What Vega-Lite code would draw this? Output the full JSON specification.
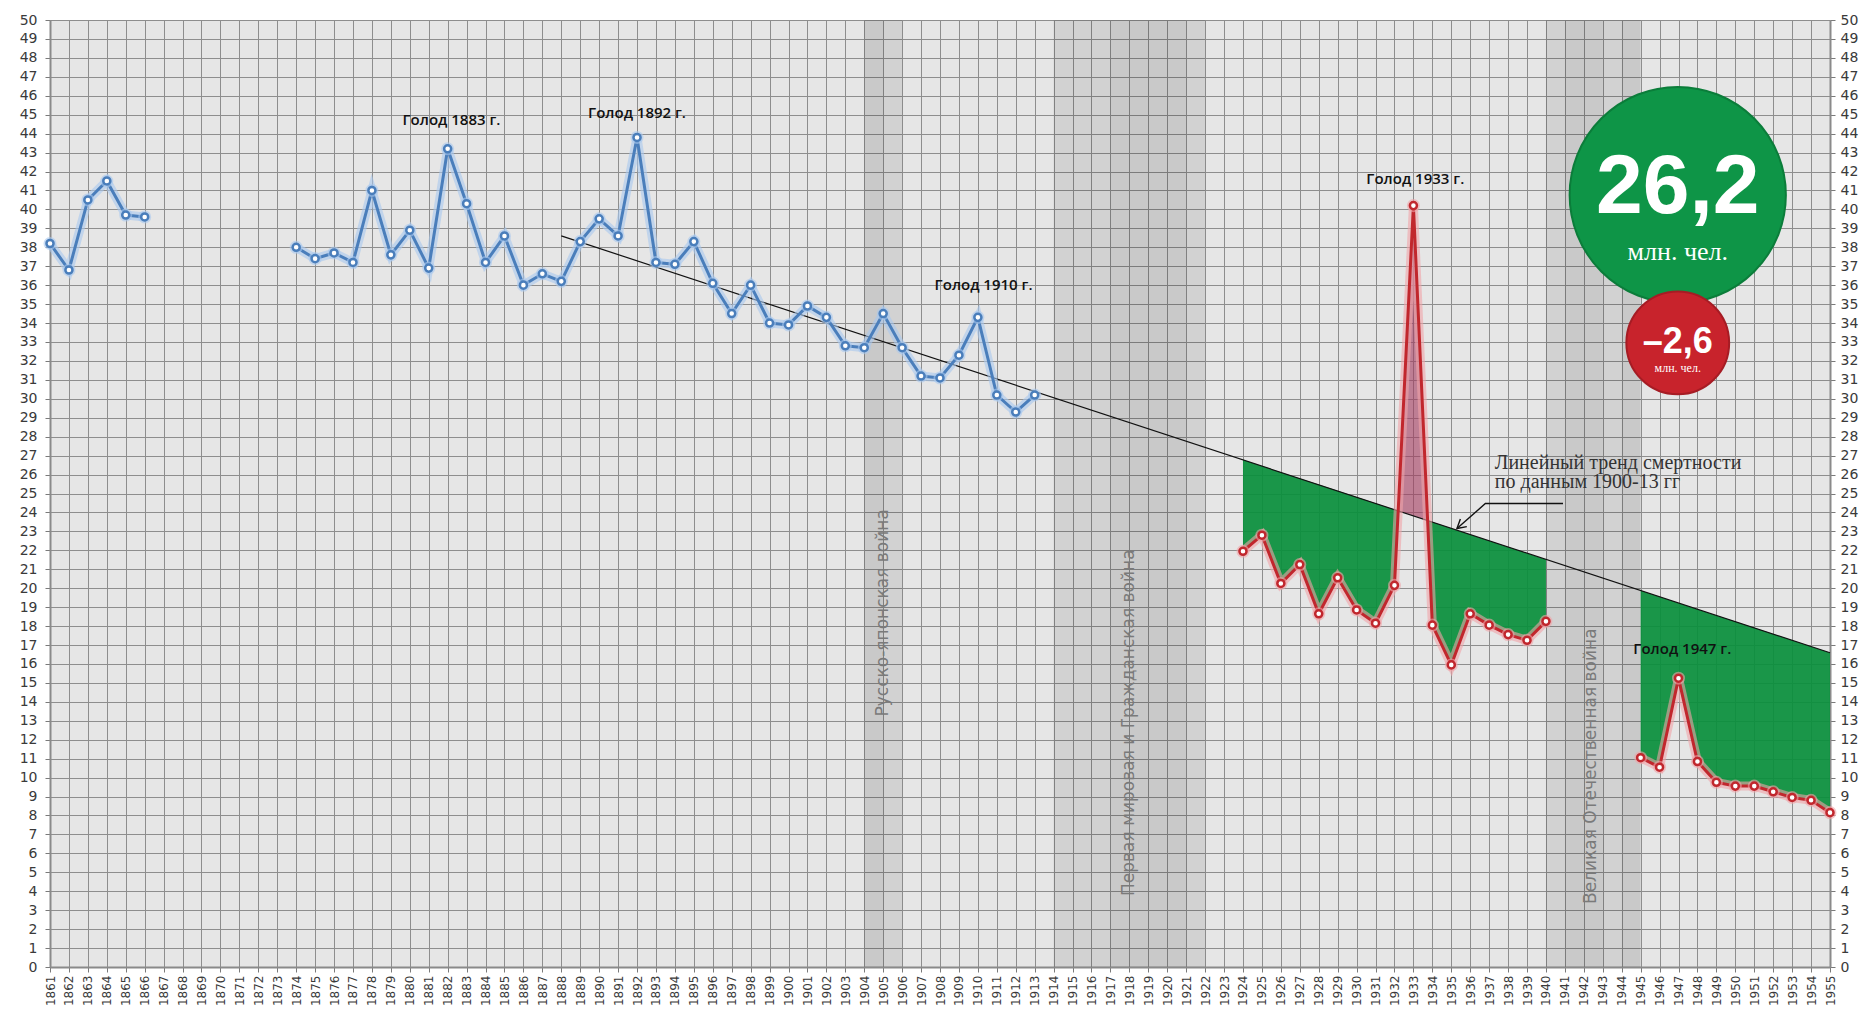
{
  "$schema": "https://vega.github.io/schema/vega-lite/v6.json",
  "width": 1780,
  "height": 947,
  "autosize": {"type": "none"},
  "padding": {"left": 50, "top": 20, "right": 33, "bottom": 43},
  "background": "#ffffff",
  "config": {
    "view": {"fill": "#e6e6e6", "stroke": null},
    "axis": {"labelFont": "DejaVu Sans", "labelColor": "#3a3a3a", "tickColor": "#7a7a7a", "domainColor": "#8a8a8a", "gridColor": "#8e8e8e", "gridOpacity": 1, "gridWidth": 1}
  },
  "datasets": {
    "blue": [
      {"year": 1861, "v": 38.2, "seg": "a"}, {"year": 1862, "v": 36.8, "seg": "a"}, {"year": 1863, "v": 40.5, "seg": "a"},
      {"year": 1864, "v": 41.5, "seg": "a"}, {"year": 1865, "v": 39.7, "seg": "a"}, {"year": 1866, "v": 39.6, "seg": "a"},
      {"year": 1874, "v": 38.0, "seg": "b"}, {"year": 1875, "v": 37.4, "seg": "b"}, {"year": 1876, "v": 37.7, "seg": "b"},
      {"year": 1877, "v": 37.2, "seg": "b"}, {"year": 1878, "v": 41.0, "seg": "b"}, {"year": 1879, "v": 37.6, "seg": "b"},
      {"year": 1880, "v": 38.9, "seg": "b"}, {"year": 1881, "v": 36.9, "seg": "b"}, {"year": 1882, "v": 43.2, "seg": "b"},
      {"year": 1883, "v": 40.3, "seg": "b"}, {"year": 1884, "v": 37.2, "seg": "b"}, {"year": 1885, "v": 38.6, "seg": "b"},
      {"year": 1886, "v": 36.0, "seg": "b"}, {"year": 1887, "v": 36.6, "seg": "b"}, {"year": 1888, "v": 36.2, "seg": "b"},
      {"year": 1889, "v": 38.3, "seg": "b"}, {"year": 1890, "v": 39.5, "seg": "b"}, {"year": 1891, "v": 38.6, "seg": "b"},
      {"year": 1892, "v": 43.8, "seg": "b"}, {"year": 1893, "v": 37.2, "seg": "b"}, {"year": 1894, "v": 37.1, "seg": "b"},
      {"year": 1895, "v": 38.3, "seg": "b"}, {"year": 1896, "v": 36.1, "seg": "b"}, {"year": 1897, "v": 34.5, "seg": "b"},
      {"year": 1898, "v": 36.0, "seg": "b"}, {"year": 1899, "v": 34.0, "seg": "b"}, {"year": 1900, "v": 33.9, "seg": "b"},
      {"year": 1901, "v": 34.9, "seg": "b"}, {"year": 1902, "v": 34.3, "seg": "b"}, {"year": 1903, "v": 32.8, "seg": "b"},
      {"year": 1904, "v": 32.7, "seg": "b"}, {"year": 1905, "v": 34.5, "seg": "b"}, {"year": 1906, "v": 32.7, "seg": "b"},
      {"year": 1907, "v": 31.2, "seg": "b"}, {"year": 1908, "v": 31.1, "seg": "b"}, {"year": 1909, "v": 32.3, "seg": "b"},
      {"year": 1910, "v": 34.3, "seg": "b"}, {"year": 1911, "v": 30.2, "seg": "b"}, {"year": 1912, "v": 29.3, "seg": "b"},
      {"year": 1913, "v": 30.2, "seg": "b"}
    ],
    "red": [
      {"year": 1924, "v": 21.95, "seg": "c"}, {"year": 1925, "v": 22.8, "seg": "c"}, {"year": 1926, "v": 20.25, "seg": "c"},
      {"year": 1927, "v": 21.25, "seg": "c"}, {"year": 1928, "v": 18.65, "seg": "c"}, {"year": 1929, "v": 20.55, "seg": "c"},
      {"year": 1930, "v": 18.85, "seg": "c"}, {"year": 1931, "v": 18.15, "seg": "c"}, {"year": 1932, "v": 20.15, "seg": "c"},
      {"year": 1933, "v": 40.2, "seg": "c"}, {"year": 1934, "v": 18.05, "seg": "c"}, {"year": 1935, "v": 15.95, "seg": "c"},
      {"year": 1936, "v": 18.65, "seg": "c"}, {"year": 1937, "v": 18.05, "seg": "c"}, {"year": 1938, "v": 17.55, "seg": "c"},
      {"year": 1939, "v": 17.25, "seg": "c"}, {"year": 1940, "v": 18.25, "seg": "c"},
      {"year": 1945, "v": 11.05, "seg": "d"}, {"year": 1946, "v": 10.55, "seg": "d"}, {"year": 1947, "v": 15.25, "seg": "d"},
      {"year": 1948, "v": 10.85, "seg": "d"}, {"year": 1949, "v": 9.75, "seg": "d"}, {"year": 1950, "v": 9.55, "seg": "d"},
      {"year": 1951, "v": 9.55, "seg": "d"}, {"year": 1952, "v": 9.25, "seg": "d"}, {"year": 1953, "v": 8.95, "seg": "d"},
      {"year": 1954, "v": 8.8, "seg": "d"}, {"year": 1955, "v": 8.15, "seg": "d"}
    ],
    "green": [
      {"year": 1924, "lo": 21.95, "hi": 26.78, "seg": "c1"}, {"year": 1925, "lo": 22.8, "hi": 26.45, "seg": "c1"},
      {"year": 1926, "lo": 20.25, "hi": 26.12, "seg": "c1"}, {"year": 1927, "lo": 21.25, "hi": 25.79, "seg": "c1"},
      {"year": 1928, "lo": 18.65, "hi": 25.47, "seg": "c1"}, {"year": 1929, "lo": 20.55, "hi": 25.14, "seg": "c1"},
      {"year": 1930, "lo": 18.85, "hi": 24.81, "seg": "c1"}, {"year": 1931, "lo": 18.15, "hi": 24.48, "seg": "c1"},
      {"year": 1932, "lo": 20.15, "hi": 24.15, "seg": "c1"}, {"year": 1932.2, "lo": 24.08, "hi": 24.08, "seg": "c1"},
      {"year": 1933.75, "lo": 23.57, "hi": 23.57, "seg": "c2"}, {"year": 1934, "lo": 18.05, "hi": 23.49, "seg": "c2"},
      {"year": 1935, "lo": 15.95, "hi": 23.16, "seg": "c2"}, {"year": 1936, "lo": 18.65, "hi": 22.83, "seg": "c2"},
      {"year": 1937, "lo": 18.05, "hi": 22.5, "seg": "c2"}, {"year": 1938, "lo": 17.55, "hi": 22.18, "seg": "c2"},
      {"year": 1939, "lo": 17.25, "hi": 21.85, "seg": "c2"}, {"year": 1940, "lo": 18.25, "hi": 21.52, "seg": "c2"},
      {"year": 1945, "lo": 11.05, "hi": 19.88, "seg": "d"}, {"year": 1946, "lo": 10.55, "hi": 19.55, "seg": "d"},
      {"year": 1947, "lo": 15.25, "hi": 19.22, "seg": "d"}, {"year": 1948, "lo": 10.85, "hi": 18.89, "seg": "d"},
      {"year": 1949, "lo": 9.75, "hi": 18.56, "seg": "d"}, {"year": 1950, "lo": 9.55, "hi": 18.24, "seg": "d"},
      {"year": 1951, "lo": 9.55, "hi": 17.91, "seg": "d"}, {"year": 1952, "lo": 9.25, "hi": 17.58, "seg": "d"},
      {"year": 1953, "lo": 8.95, "hi": 17.25, "seg": "d"}, {"year": 1954, "lo": 8.8, "hi": 16.92, "seg": "d"},
      {"year": 1955, "lo": 8.15, "hi": 16.59, "seg": "d"}
    ],
    "spike": [
      {"year": 1932.2, "lo": 24.08, "hi": 24.08}, {"year": 1933, "lo": 40.2, "hi": 23.82}, {"year": 1933.75, "lo": 23.57, "hi": 23.57}
    ],
    "trend": [{"year": 1888, "v": 38.6}, {"year": 1955, "v": 16.59}],
    "bands": [
      {"year": 1904, "year2": 1905, "tone": "a"}, {"year": 1905, "year2": 1906, "tone": "b"},
      {"year": 1914, "year2": 1917, "tone": "b"}, {"year": 1917, "year2": 1921, "tone": "a"}, {"year": 1921, "year2": 1922, "tone": "b"},
      {"year": 1940, "year2": 1941, "tone": "b"}, {"year": 1941, "year2": 1943, "tone": "a"}, {"year": 1943, "year2": 1944, "tone": "b"}, {"year": 1944, "year2": 1945, "tone": "a"}
    ],
    "bandLabels": [
      {"year": 1905, "v": 18.7, "text": "Русско-японская война"},
      {"year": 1918, "v": 12.9, "text": "Первая мировая и Гражданская война"},
      {"year": 1942.4, "v": 10.6, "text": "Великая Отечественная война"}
    ],
    "famine": [
      {"year": 1882.2, "v": 44.7, "text": "Голод 1883 г."},
      {"year": 1892.0, "v": 45.1, "text": "Голод 1892 г."},
      {"year": 1910.3, "v": 36.0, "text": "Голод 1910 г."},
      {"year": 1933.1, "v": 41.6, "text": "Голод 1933 г."},
      {"year": 1947.2, "v": 16.8, "text": "Голод 1947 г."}
    ],
    "note": [
      {"year": 1937.3, "v": 26.6, "text": "Линейный тренд смертности"},
      {"year": 1937.3, "v": 25.6, "text": "по данным 1900-13 гг"}
    ],
    "arrow": [
      {"year": 1940.9, "v": 24.47, "o": 1, "seg": "s"}, {"year": 1936.8, "v": 24.47, "o": 2, "seg": "s"}, {"year": 1935.3, "v": 23.15, "o": 3, "seg": "s"},
      {"year": 1935.82, "v": 23.25, "o": 1, "seg": "h"}, {"year": 1935.3, "v": 23.15, "o": 2, "seg": "h"}, {"year": 1935.48, "v": 23.65, "o": 3, "seg": "h"}
    ]
  },
  "encoding": {
    "x": {
      "field": "year", "type": "quantitative",
      "scale": {"domain": [1861, 1955], "nice": false, "zero": false},
      "axis": {
        "title": null, "grid": true, "labelAngle": 270, "labelFontSize": 12, "labelPadding": 3, "tickSize": 5,
        "domainWidth": 2, "labelOverlap": false, "labelFlush": false, "format": "d",
        "values": [1861,1862,1863,1864,1865,1866,1867,1868,1869,1870,1871,1872,1873,1874,1875,1876,1877,1878,1879,1880,1881,1882,1883,1884,1885,1886,1887,1888,1889,1890,1891,1892,1893,1894,1895,1896,1897,1898,1899,1900,1901,1902,1903,1904,1905,1906,1907,1908,1909,1910,1911,1912,1913,1914,1915,1916,1917,1918,1919,1920,1921,1922,1923,1924,1925,1926,1927,1928,1929,1930,1931,1932,1933,1934,1935,1936,1937,1938,1939,1940,1941,1942,1943,1944,1945,1946,1947,1948,1949,1950,1951,1952,1953,1954,1955]
      }
    }
  },
  "resolve": {"axis": {"y": "independent"}},
  "layer": [
    {
      "data": {"name": "bands"},
      "mark": {"type": "rect"},
      "encoding": {
        "x2": {"field": "year2"},
        "y": {"datum": 0, "type": "quantitative", "scale": {"domain": [0, 50], "nice": false}, "axis": null},
        "y2": {"datum": 50},
        "color": {"field": "tone", "type": "nominal", "scale": {"domain": ["a", "b"], "range": ["rgba(0,0,0,0.125)", "rgba(0,0,0,0.085)"]}, "legend": null}
      }
    },
    {
      "data": {"name": "bandLabels"},
      "mark": {"type": "text", "angle": 270, "font": "DejaVu Sans", "fontSize": 17, "color": "#7a7a7a", "align": "center", "baseline": "middle"},
      "encoding": {
        "y": {"field": "v", "type": "quantitative", "scale": {"domain": [0, 50], "nice": false}, "axis": null},
        "text": {"field": "text"}
      }
    },
    {
      "data": {"name": "green"},
      "mark": {"type": "area", "color": "#0a8f3c", "opacity": 0.93},
      "encoding": {
        "y": {"field": "lo", "type": "quantitative", "scale": {"domain": [0, 50], "nice": false}, "axis": null},
        "y2": {"field": "hi"},
        "detail": {"field": "seg"}
      }
    },
    {
      "data": {"name": "spike"},
      "mark": {"type": "area", "color": "#a3385e", "opacity": 0.6},
      "encoding": {
        "y": {"field": "lo", "type": "quantitative", "scale": {"domain": [0, 50], "nice": false}, "axis": null},
        "y2": {"field": "hi"}
      }
    },
    {
      "data": {"name": "trend"},
      "mark": {"type": "line", "color": "#111111", "strokeWidth": 1.2},
      "encoding": {
        "y": {"field": "v", "type": "quantitative", "scale": {"domain": [0, 50], "nice": false}, "axis": null}
      }
    },
    {
      "data": {"name": "blue"},
      "mark": {"type": "line", "color": "#a9c8ee", "strokeWidth": 9, "opacity": 0.6},
      "encoding": {
        "y": {"field": "v", "type": "quantitative", "scale": {"domain": [0, 50], "nice": false}, "axis": null},
        "detail": {"field": "seg"}
      }
    },
    {
      "data": {"name": "blue"},
      "mark": {"type": "line", "color": "#4a7ebb", "strokeWidth": 3},
      "encoding": {
        "y": {
          "field": "v", "type": "quantitative", "scale": {"domain": [0, 50], "nice": false},
          "axis": {"orient": "left", "title": null, "grid": true, "labelFontSize": 14, "labelPadding": 8, "tickSize": 5, "domainWidth": 2,
            "labelFlush": false, "labelOverlap": false,
            "values": [0,1,2,3,4,5,6,7,8,9,10,11,12,13,14,15,16,17,18,19,20,21,22,23,24,25,26,27,28,29,30,31,32,33,34,35,36,37,38,39,40,41,42,43,44,45,46,47,48,49,50]}
        },
        "detail": {"field": "seg"}
      }
    },
    {
      "data": {"name": "blue"},
      "mark": {"type": "point", "shape": "circle", "filled": true, "color": "#a9c8ee", "size": 170, "opacity": 0.6},
      "encoding": {
        "y": {"field": "v", "type": "quantitative", "scale": {"domain": [0, 50], "nice": false}, "axis": null}
      }
    },
    {
      "data": {"name": "blue"},
      "mark": {"type": "point", "shape": "circle", "filled": true, "fill": "#ffffff", "stroke": "#4a7ebb", "strokeWidth": 2.5, "size": 50, "opacity": 1},
      "encoding": {
        "y": {"field": "v", "type": "quantitative", "scale": {"domain": [0, 50], "nice": false}, "axis": null}
      }
    },
    {
      "data": {"name": "red"},
      "mark": {"type": "line", "color": "#f0a3a8", "strokeWidth": 9, "opacity": 0.6},
      "encoding": {
        "y": {"field": "v", "type": "quantitative", "scale": {"domain": [0, 50], "nice": false}, "axis": null},
        "detail": {"field": "seg"}
      }
    },
    {
      "data": {"name": "red"},
      "mark": {"type": "line", "color": "#c1272d", "strokeWidth": 3},
      "encoding": {
        "y": {
          "field": "v", "type": "quantitative", "scale": {"domain": [0, 50], "nice": false},
          "axis": {"orient": "right", "title": null, "grid": false, "labelFontSize": 14, "labelPadding": 5, "tickSize": 5, "domainWidth": 2,
            "labelFlush": false, "labelOverlap": false,
            "values": [0,1,2,3,4,5,6,7,8,9,10,11,12,13,14,15,16,17,18,19,20,21,22,23,24,25,26,27,28,29,30,31,32,33,34,35,36,37,38,39,40,41,42,43,44,45,46,47,48,49,50]}
        },
        "detail": {"field": "seg"}
      }
    },
    {
      "data": {"name": "red"},
      "mark": {"type": "point", "shape": "circle", "filled": true, "color": "#f0a3a8", "size": 170, "opacity": 0.6},
      "encoding": {
        "y": {"field": "v", "type": "quantitative", "scale": {"domain": [0, 50], "nice": false}, "axis": null}
      }
    },
    {
      "data": {"name": "red"},
      "mark": {"type": "point", "shape": "circle", "filled": true, "fill": "#ffffff", "stroke": "#c1272d", "strokeWidth": 2.5, "size": 50, "opacity": 1},
      "encoding": {
        "y": {"field": "v", "type": "quantitative", "scale": {"domain": [0, 50], "nice": false}, "axis": null}
      }
    },
    {
      "data": {"name": "famine"},
      "mark": {"type": "text", "font": "Open Sans", "fontWeight": 600, "fontSize": 15, "color": "#111111", "align": "center", "baseline": "middle"},
      "encoding": {
        "y": {"field": "v", "type": "quantitative", "scale": {"domain": [0, 50], "nice": false}, "axis": null},
        "text": {"field": "text"}
      }
    },
    {
      "data": {"name": "note"},
      "mark": {"type": "text", "font": "Liberation Serif", "fontSize": 20, "color": "#333333", "align": "left", "baseline": "middle"},
      "encoding": {
        "y": {"field": "v", "type": "quantitative", "scale": {"domain": [0, 50], "nice": false}, "axis": null},
        "text": {"field": "text"}
      }
    },
    {
      "data": {"name": "arrow"},
      "mark": {"type": "line", "color": "#111111", "strokeWidth": 1.4},
      "encoding": {
        "y": {"field": "v", "type": "quantitative", "scale": {"domain": [0, 50], "nice": false}, "axis": null},
        "detail": {"field": "seg"},
        "order": {"field": "o"}
      }
    },
    {
      "data": {"values": [{"year": 1946.96, "v": 40.76}]},
      "mark": {"type": "point", "shape": "circle", "filled": true, "fill": "#0e9547", "stroke": "#0b7d3a", "strokeWidth": 2, "size": 46760, "opacity": 1},
      "encoding": {
        "y": {"field": "v", "type": "quantitative", "scale": {"domain": [0, 50], "nice": false}, "axis": null}
      }
    },
    {
      "data": {"values": [{"year": 1946.96, "v": 32.95}]},
      "mark": {"type": "point", "shape": "circle", "filled": true, "fill": "#c8232c", "stroke": "#a61c24", "strokeWidth": 2, "size": 10570, "opacity": 1},
      "encoding": {
        "y": {"field": "v", "type": "quantitative", "scale": {"domain": [0, 50], "nice": false}, "axis": null}
      }
    },
    {
      "data": {"values": [{"year": 1946.96, "v": 39.8, "text": "26,2"}]},
      "mark": {"type": "text", "font": "Liberation Sans", "fontWeight": "bold", "fontSize": 84, "color": "#ffffff", "align": "center", "baseline": "alphabetic"},
      "encoding": {
        "y": {"field": "v", "type": "quantitative", "scale": {"domain": [0, 50], "nice": false}, "axis": null},
        "text": {"field": "text"}
      }
    },
    {
      "data": {"values": [{"year": 1946.96, "v": 37.75, "text": "млн. чел."}]},
      "mark": {"type": "text", "font": "Liberation Serif", "fontSize": 26, "color": "#ffffff", "align": "center", "baseline": "middle"},
      "encoding": {
        "y": {"field": "v", "type": "quantitative", "scale": {"domain": [0, 50], "nice": false}, "axis": null},
        "text": {"field": "text"}
      }
    },
    {
      "data": {"values": [{"year": 1946.96, "v": 32.42, "text": "–2,6"}]},
      "mark": {"type": "text", "font": "Liberation Sans", "fontWeight": "bold", "fontSize": 36, "color": "#ffffff", "align": "center", "baseline": "alphabetic"},
      "encoding": {
        "y": {"field": "v", "type": "quantitative", "scale": {"domain": [0, 50], "nice": false}, "axis": null},
        "text": {"field": "text"}
      }
    },
    {
      "data": {"values": [{"year": 1946.96, "v": 31.6, "text": "млн. чел."}]},
      "mark": {"type": "text", "font": "Liberation Serif", "fontSize": 12, "color": "#ffffff", "align": "center", "baseline": "middle"},
      "encoding": {
        "y": {"field": "v", "type": "quantitative", "scale": {"domain": [0, 50], "nice": false}, "axis": null},
        "text": {"field": "text"}
      }
    }
  ]
}
